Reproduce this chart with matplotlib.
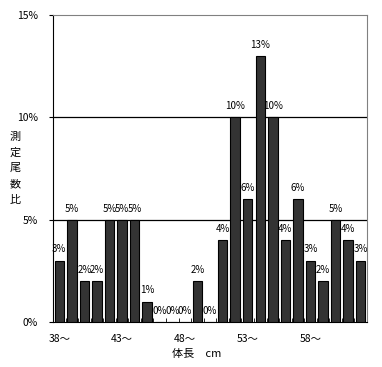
import matplotlib
matplotlib.use("Agg")
import matplotlib.pyplot as plt
import numpy as np

plt.rcParams['font.family'] = ['Noto Sans CJK JP', 'DejaVu Sans']

# body length classes (cm) and share of measured fish (%)
lengths = list(range(38, 63))
shares = [3, 5, 2, 2, 5, 5, 5, 1, 0, 0, 0, 2, 0, 4, 10, 6, 13, 10, 4, 6, 3, 2, 5, 4, 3]
tick_labels = ["38〜", "43〜", "48〜", "53〜", "58〜"]
yticks = [0, 5, 10, 15]

fig = plt.figure(figsize=(3.82, 3.67), dpi=100)
ax = fig.add_axes([53/382, 1 - 322/367, 314/382, 307/367])

x = np.arange(len(lengths))
ax.bar(x, shares, width=0.75, color="#333333", edgecolor="black", linewidth=0.8, zorder=3)

for xi, v in zip(x, shares):
    ax.text(xi, v + 0.3, "%d%%" % v, ha="center", va="bottom", fontsize=7, zorder=4)

ax.set_xlim(-0.5, len(lengths) - 0.5)
ax.set_ylim(0, 15)

# gridlines
for y in [5, 10]:
    ax.axhline(y, color="black", linewidth=0.9, zorder=1)

ax.set_yticks(yticks)
ax.set_yticklabels(["%d%%" % t for t in yticks], fontsize=7.5)
ax.tick_params(axis="y", direction="out", length=3, pad=8)

ax.set_xticks(x[::5])
ax.set_xticklabels(tick_labels, fontsize=7.5)
ax.tick_params(axis="x", length=0, pad=9)
ax.set_xticks(np.arange(-0.5, len(lengths)), minor=True)
ax.tick_params(axis="x", which="minor", direction="in", length=3)

for s in ["top", "right"]:
    ax.spines[s].set_color("gray")
for s in ["left", "bottom"]:
    ax.spines[s].set_color("black")

fig.text(172/382, 1 - 354/367, "体長　cm", fontsize=8, va="center", ha="left")
fig.text(15/382, 1 - 168/367, "\n".join("測定尾数比"), fontsize=8, va="center",
         ha="center", linespacing=1.7)

fig.savefig("out.png", dpi=100)
